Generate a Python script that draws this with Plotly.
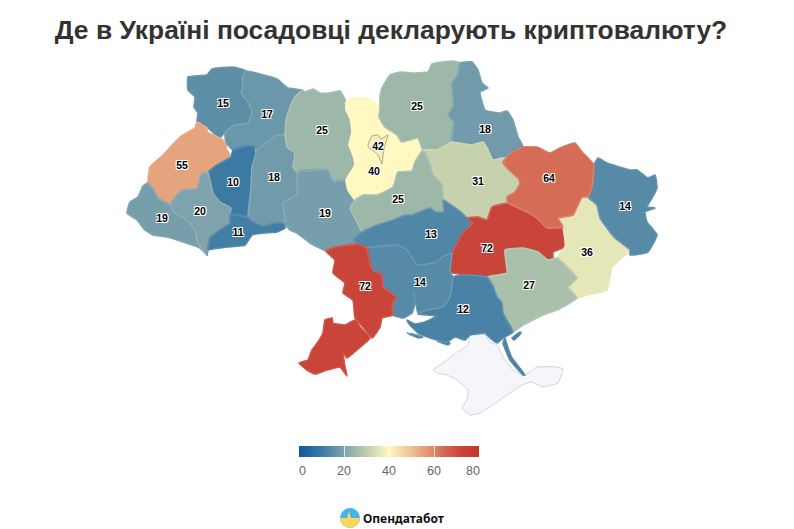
import plotly.graph_objects as go
from plotly.colors import sample_colorscale

# значення по областях
REGIONS = ["Волинська", "Рівненська", "Львівська", "Тернопільська", "Хмельницька", "Житомирська",
           "Вінницька", "Київська", "Київ", "Чернігівська", "Сумська", "Полтавська", "Черкаська",
           "Кіровоградська", "Дніпропетровська", "Донецька", "Луганська", "Харківська",
           "Запорізька", "Херсонська", "Миколаївська", "Одеська", "Закарпатська",
           "Івано-Франківська", "Чернівецька"]
VALUES = [15, 17, 55, 10, 18, 25, 19, 40, 42, 25, 18, 31, 25, 13, 72, 36, 14, 64, 27, 12, 14, 72, 19, 20, 11]
CB_TICKS = [0, 20, 40, 60, 80]
TITLE = "Де в Україні посадовці декларують криптовалюту?"
LOGO_TEXT = "Опендатабот"

# контури областей, обведені по картинці (x, y у пікселях)
OUTLINES = {
    "Волинська": [[(188,77),(207,75),(212,69),(233,67),(246,71),(242,77),(243,87),(241,93),(248,102),(252,112),(248,123),(235,125),(225,132),(220,138),(208,128),(197,122),(198,113),(194,107),(195,97),(188,90)]],
    "Рівненська": [[(246,71),(260,74),(277,79),(288,88),(302,90),(295,97),(290,107),(286,120),(285,135),(277,135),(267,142),(257,150),(254,146),(245,146),(233,150),(226,143),(225,132),(235,125),(248,123),(252,112),(248,102),(241,93),(243,87),(242,77)]],
    "Львівська": [[(197,122),(207,128),(207,132),(220,138),(225,143),(227,150),(231,157),(217,165),(208,173),(201,174),(197,188),(183,190),(177,195),(170,205),(158,198),(155,192),(148,183),(150,167),(163,155),(180,137),(195,128)]],
    "Тернопільська": [[(231,157),(233,150),(245,146),(254,146),(255,157),(252,167),(251,187),(248,217),(230,214),(231,208),(220,202),(213,193),(208,173),(217,165)]],
    "Хмельницька": [[(257,150),(267,142),(277,135),(285,135),(287,147),(295,153),(293,167),(297,172),(297,193),(292,198),(283,202),(285,217),(284,223),(275,223),(262,226),(250,220),(248,217),(251,187),(252,167),(255,157)]],
    "Житомирська": [[(302,90),(305,92),(313,89),(320,93),(330,93),(340,91),(346,102),(346,110),(350,118),(352,132),(349,145),(353,155),(355,165),(346,180),(333,181),(328,170),(297,172),(293,167),(295,153),(287,147),(285,135),(286,120),(290,107),(295,97)]],
    "Вінницька": [[(297,172),(328,170),(333,181),(346,180),(348,190),(355,200),(350,208),(357,222),(362,232),(353,240),(358,244),(335,247),(326,251),(310,243),(297,233),(290,230),(284,223),(285,217),(283,202),(292,198),(297,193)]],
    "Київська": [[(346,102),(355,98),(365,98),(375,102),(380,108),(379,117),(385,127),(397,135),(402,142),(418,138),(423,150),(415,162),(412,171),(398,172),(393,187),(377,195),(363,195),(355,200),(348,190),(346,180),(355,165),(353,155),(349,145),(352,132),(350,118),(346,110)]],
    "Київ": [[(368,145),(372,136),(378,135),(381,139),(388,135),(385,145),(383,155),(382,164),(378,155),(375,152),(369,148)]],
    "Чернігівська": [[(382,88),(390,75),(400,72),(412,73),(428,72),(432,64),(453,61),(460,63),(458,75),(452,83),(453,97),(453,107),(448,115),(454,122),(452,142),(437,150),(423,150),(418,138),(402,142),(397,135),(385,127),(379,117),(380,108),(380,97)]],
    "Сумська": [[(460,63),(472,62),(478,70),(482,83),(488,88),(480,92),(485,110),(500,113),(507,111),(513,120),(518,137),(523,147),(513,152),(503,158),(493,160),(487,148),(483,142),(472,145),(452,142),(454,122),(448,115),(453,107),(453,97),(452,83),(458,75)]],
    "Полтавська": [[(423,150),(437,150),(452,142),(472,145),(483,142),(487,148),(493,160),(503,158),(507,168),(518,178),(520,183),(515,192),(507,197),(508,203),(492,207),(487,220),(478,217),(467,218),(458,210),(443,200),(442,185),(433,175),(430,165)]],
    "Черкаська": [[(423,150),(430,165),(433,175),(442,185),(443,200),(444,212),(435,212),(430,208),(412,215),(405,215),(393,220),(377,225),(362,232),(357,222),(350,208),(355,200),(363,195),(377,195),(393,187),(398,172),(412,171),(415,162)]],
    "Кіровоградська": [[(353,240),(362,232),(377,225),(393,220),(405,215),(412,215),(430,208),(435,212),(444,212),(443,200),(458,210),(467,218),(473,223),(463,233),(452,253),(442,257),(437,262),(417,265),(412,257),(407,250),(397,245),(367,248),(358,244)]],
    "Дніпропетровська": [[(467,218),(478,217),(487,220),(492,207),(508,203),(527,212),(537,218),(547,228),(563,227),(565,240),(565,247),(553,252),(553,260),(548,260),(538,252),(523,248),(505,250),(507,273),(487,277),(468,275),(450,272),(452,253),(463,233),(473,223)]],
    "Донецька": [[(558,218),(573,215),(582,197),(588,197),(597,205),(600,218),(607,228),(615,238),(630,250),(612,267),(607,290),(587,295),(577,298),(568,287),(577,278),(557,258),(565,247),(565,240),(563,227)]],
    "Луганська": [[(598,158),(607,163),(630,170),(637,170),(648,178),(655,175),(657,188),(652,198),(647,207),(655,208),(645,212),(647,222),(657,235),(648,252),(630,255),(630,250),(615,238),(607,228),(600,218),(597,205),(588,197),(592,187),(594,165)]],
    "Харківська": [[(503,162),(513,152),(523,147),(537,147),(550,153),(560,148),(575,143),(582,152),(594,165),(592,187),(588,197),(582,197),(573,215),(558,218),(563,227),(547,228),(537,218),(527,212),(508,203),(507,197),(515,192),(520,183),(518,178),(507,168)]],
    "Запорізька": [[(487,277),(507,273),(505,250),(523,248),(538,252),(548,260),(557,258),(577,278),(568,287),(577,298),(557,310),(543,315),(523,325),(513,332),(503,313),(502,303),(497,297),(493,286)]],
    "Херсонська": [[(453,277),(468,275),(487,277),(493,286),(497,297),(502,303),(503,313),(513,332),(503,338),(497,343),(490,338),(485,333),(470,335),(465,340),(455,337),(447,342),(430,338),(418,333),(410,325),(407,320),(415,324),(425,322),(437,316),(418,314),(427,310),(443,307),(450,297)],
                   [(505,338),(507,345),(512,358),(525,375),(523,375),(510,360),(503,343)],
                   [(512,338),(520,332),(521,333),(514,340)],
                   [(407,333),(423,337),(419,338)],
                   [(437,341),(450,343),(448,345)]],
    "Миколаївська": [[(367,248),(397,245),(407,250),(412,257),(417,265),(437,262),(442,257),(452,253),(450,272),(453,277),(450,297),(443,307),(427,310),(418,313),(415.5,300),(414,292),(413,292),(414.5,305),(412,313),(403,318),(393,315),(392,305),(396,297),(383,287),(382,275),(372,270)]],
    "Одеська": [[(326,251),(335,247),(358,244),(367,248),(372,270),(382,275),(383,287),(396,297),(392,305),(393,315),(382,318),(380,327),(372,338),(363,327),(355,318),(353,300),(343,293),(345,283),(333,273),(335,260)],
                [(370,338),(365,343),(357,350),(347,358),(343,352),(345,367),(347,376),(340,367),(327,370),(315,374),(307,370),(299,363),(308,360),(312,350),(318,342),(323,333),(325,320),(332,318),(333,323),(345,325),(355,320),(360,327)]],
    "Закарпатська": [[(143,186),(148,183),(155,192),(158,198),(170,205),(175,213),(187,220),(195,230),(198,243),(207,255),(200,248),(183,242),(167,237),(153,235),(145,230),(137,220),(127,213),(130,202),(138,197)]],
    "Івано-Франківська": [[(170,205),(177,195),(183,190),(197,188),(201,174),(208,173),(213,193),(220,202),(231,208),(230,214),(230,223),(220,230),(210,238),(208,247),(207,255),(198,243),(195,230),(187,220),(175,213)]],
    "Чернівецька": [[(230,214),(248,217),(250,220),(262,226),(275,223),(284,223),(285,228),(277,232),(263,233),(252,235),(245,245),(227,247),(208,250),(207,255),(208,247),(210,238),(220,230),(230,223)]],
}
CRIMEA = [(433,370),(447,360),(457,352),(468,345),(470,335),(477,334),(485,335),(490,342),(497,345),(503,357),(513,370),(525,375),(537,367),(557,367),(563,369),(558,383),(543,387),(532,382),(522,385),(507,395),(490,407),(480,413),(470,415),(462,408),(467,400),(468,390),(457,380),(447,375),(437,373)]

# де стоять підписи (x, y у пікселях)
LABEL_POS = [(223,104),(267,115),(182,166),(233,183),(274,178),(322,131),(325,214),(374,172),(378,147),
             (417,107),(485,130),(478,182),(398,200),(431,235),(487,249),(587,253),(625,207),(549,179),
             (529,286),(463,310),(420,283),(365,287),(162,219),(200,212),(238,233)]
CB_LABEL_X = [302, 344, 389, 434, 473]

colorscale = [[0, "#12599a"], [0.125, "#3c7aa3"], [0.25, "#7ea3ac"], [0.3125, "#9db8a8"], [0.39, "#c7d2ae"],
              [0.5, "#fff8c0"], [0.6875, "#e5a47e"], [0.8, "#d56c55"], [0.9, "#c9453a"], [1, "#c0392f"]]


def outline_xy(polys):
    xs, ys = [], []
    for poly in polys:
        xs += [p[0] for p in poly] + [poly[0][0], None]
        ys += [p[1] for p in poly] + [poly[0][1], None]
    return xs, ys


fig = go.Figure()

x, y = outline_xy([CRIMEA])
fig.add_trace(go.Scatter(x=x, y=y, mode="lines", fill="toself", fillcolor="#f5f6fa",
                         line=dict(color="#ccd3e4", width=1, shape="spline", smoothing=0.35),
                         hoverinfo="skip", name="Крим"))

# лінія кольору області закриває щілини між сусідами
for name, val in zip(REGIONS, VALUES):
    x, y = outline_xy(OUTLINES[name])
    col = sample_colorscale(colorscale, val / 80)[0]
    fig.add_trace(go.Scatter(x=x, y=y, mode="lines", fill="toself", fillcolor=col,
                             line=dict(color=col, width=1.6, shape="spline", smoothing=0.35), name=name,
                             hovertemplate=name + ": %{text}<extra></extra>", text=[val] * len(x)))

# тонкі межі поверх
for name in REGIONS:
    x, y = outline_xy(OUTLINES[name])
    line_col = "#8a8a80" if name == "Київ" else "rgba(255,255,255,0.16)"
    fig.add_trace(go.Scatter(x=x, y=y, mode="lines", hoverinfo="skip",
                             line=dict(color=line_col, width=0.7, shape="spline", smoothing=0.35)))

# підписи значень
fig.add_trace(go.Scatter(
    x=[p[0] for p in LABEL_POS], y=[p[1] for p in LABEL_POS], text=[str(v) for v in VALUES],
    mode="text", hoverinfo="skip",
    textfont=dict(family="Liberation Sans, Arial", size=10.5, color="#000000", weight="bold",
                  shadow="-1px -1px 0 #fff, 1px -1px 0 #fff, -1px 1px 0 #fff, 1px 1px 0 #fff"),
))

# легенда: невидима точка заради колірної шкали
fig.add_trace(go.Scatter(
    x=[None], y=[None], mode="markers", hoverinfo="skip",
    marker=dict(color=VALUES, cmin=0, cmax=80, colorscale=colorscale, showscale=True, colorbar=dict(
        orientation="h", x=389 / 794, xanchor="center", y=1 - 468 / 529, yanchor="bottom",
        len=180 / 794, lenmode="fraction", thickness=11, thicknessmode="pixels", xpad=0, ypad=0,
        outlinewidth=0, tickvals=CB_TICKS, ticks="inside", tickcolor="rgba(255,255,255,0.75)",
        ticklen=11, tickwidth=1, showticklabels=False,
    )),
))

annotations = [dict(text=str(t), xref="paper", yref="paper", x=lx / 794, y=1 - 471 / 529, yanchor="middle",
                    showarrow=False, font=dict(family="Liberation Sans, Arial", size=12.5, color="#666666"))
               for t, lx in zip(CB_TICKS, CB_LABEL_X)]
annotations.append(dict(text="<b>" + LOGO_TEXT + "</b>", xref="paper", yref="paper", x=361 / 794, y=1 - 518 / 529,
                        xanchor="left", yanchor="middle", showarrow=False,
                        font=dict(family="Noto Sans", size=12, color="#111111")))

# логотип
fig.add_shape(type="circle", xref="paper", yref="paper", x0=340 / 794, x1=360 / 794,
              y0=1 - 528 / 529, y1=1 - 508 / 529, fillcolor="#45b4ec", line_width=0)
logo_pts = [(340, 518), (347, 518), (349, 511), (351, 518), (360, 518), (358.7, 523),
            (355, 526.7), (350, 528), (345, 526.7), (341.3, 523)]
fig.add_shape(type="path", xref="paper", yref="paper", line_width=0, fillcolor="#f9d65c",
              path="M " + " L ".join("%f %f" % (p[0] / 794, 1 - p[1] / 529) for p in logo_pts) + " Z")

fig.update_layout(
    width=794, height=529, margin=dict(l=0, r=0, t=0, b=0), paper_bgcolor="#ffffff", plot_bgcolor="#ffffff",
    showlegend=False,
    xaxis=dict(range=[0, 794], visible=False),
    yaxis=dict(range=[529, 0], visible=False),
    title=dict(text="<b>" + TITLE + "</b>", x=391 / 794, xanchor="center", y=1 - 30 / 529, yanchor="middle",
               font=dict(family="Liberation Sans, Arial", size=26.4, color="#333333")),
    annotations=annotations,
)

fig.write_html("out.html", config={"displayModeBar": False}, post_script="document.body.style.margin='0';")
